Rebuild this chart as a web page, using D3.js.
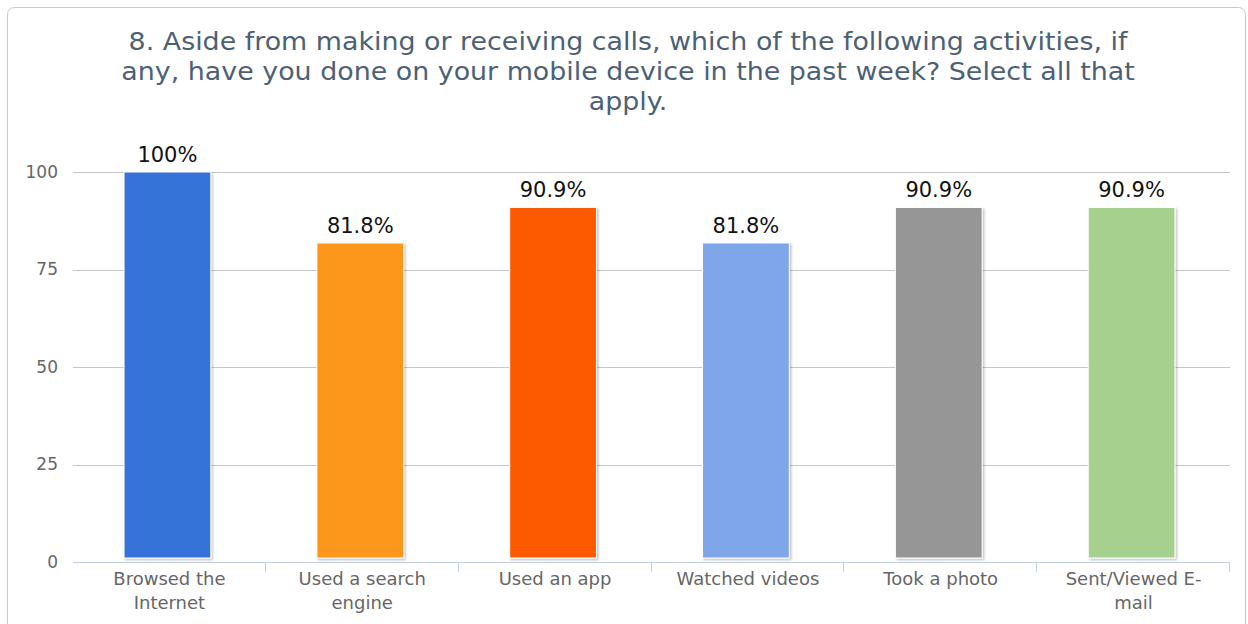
<!DOCTYPE html>
<html>
<head>
<meta charset="utf-8">
<script src="https://cdn.jsdelivr.net/npm/d3@7/dist/d3.min.js"></script>
<style>
  html, body { margin: 0; padding: 0; background: #fff; }
  svg { display: block; font-family: "DejaVu Sans", sans-serif; }
</style>
</head>
<body>
<svg id="chart" width="1248" height="624"></svg>
<script>
// Survey question 8 — share of respondents per activity (percent)
const titleLines = [
  "8. Aside from making or receiving calls, which of the following activities, if",
  "any, have you done on your mobile device in the past week? Select all that",
  "apply."
];
const categories = [
  ["Browsed the", "Internet"],
  ["Used a search", "engine"],
  ["Used an app"],
  ["Watched videos"],
  ["Took a photo"],
  ["Sent/Viewed E-", "mail"]
];
const values = [100, 81.8, 90.9, 81.8, 90.9, 90.9];
const valueLabels = ["100%", "81.8%", "90.9%", "81.8%", "90.9%", "90.9%"];
const colors = ["#3673d8", "#fd971f", "#fd5a05", "#7ea6e8", "#969696", "#a6d08e"];
const yTicks = [0, 25, 50, 75, 100];

const svg = d3.select("#chart");
const plot = { left: 73, right: 1230, top: 172, bottom: 562 };

// Outer frame
svg.append("rect")
  .attr("x", 7.5).attr("y", 7.5)
  .attr("width", 1238).attr("height", 660)
  .attr("rx", 7)
  .attr("fill", "#fff")
  .attr("stroke", "#c8c8c8");

// Shadow for bars
const defs = svg.append("defs");
const f = defs.append("filter").attr("id", "barShadow")
  .attr("x", "-10%").attr("y", "-10%").attr("width", "130%").attr("height", "130%");
f.append("feDropShadow")
  .attr("dx", 1.5).attr("dy", 1.5).attr("stdDeviation", 1.2)
  .attr("flood-color", "#000").attr("flood-opacity", 0.25);

// Title
const titleX = 628;
svg.append("g")
  .attr("transform", `translate(${titleX},50) scale(1.12,1)`)
  .append("text")
  .attr("text-anchor", "middle")
  .attr("fill", "#4d6175")
  .style("font-size", "24px")
  .selectAll("tspan")
  .data(titleLines)
  .join("tspan")
  .attr("x", 0)
  .attr("dy", (d, i) => i === 0 ? 0 : 30)
  .text(d => d);

const x = d3.scaleBand()
  .domain(d3.range(values.length))
  .range([plot.left, plot.right])
  .paddingInner(0).paddingOuter(0);

const y = d3.scaleLinear().domain([0, 100]).range([plot.bottom, plot.top]);

// Gridlines
svg.append("g")
  .selectAll("line")
  .data(yTicks.filter(t => t !== 0))
  .join("line")
  .attr("x1", plot.left).attr("x2", plot.right)
  .attr("y1", d => Math.round(y(d)) + 0.5)
  .attr("y2", d => Math.round(y(d)) + 0.5)
  .attr("stroke", "#c6c6c6");

// Y axis labels
const yAxis = d3.axisLeft(y).tickValues(yTicks).tickSize(0).tickPadding(0);
const yg = svg.append("g")
  .attr("transform", `translate(${plot.left - 15},0)`)
  .call(yAxis);
yg.select(".domain").remove();
yg.selectAll("text")
  .attr("fill", "#666")
  .style("font-size", "17px")
  .style("font-family", "DejaVu Sans, sans-serif");

// X axis
const xAxis = d3.axisBottom(x).tickSize(0).tickFormat("");
const xg = svg.append("g")
  .attr("transform", `translate(0,${plot.bottom + 0.5})`)
  .call(xAxis);
xg.select(".domain").attr("stroke", "#c0d0e0").attr("d", `M${plot.left},0H${plot.right}`);
xg.selectAll(".tick").remove();

// Tick marks at band boundaries
const bounds = d3.range(1, values.length + 1).map(i => x(i - 1) + x.bandwidth());
svg.append("g")
  .selectAll("line")
  .data(bounds)
  .join("line")
  .attr("x1", d => Math.round(d) - 0.5).attr("x2", d => Math.round(d) - 0.5)
  .attr("y1", plot.bottom).attr("y2", plot.bottom + 10)
  .attr("stroke", "#c0d0e0");

// Category labels
const catG = svg.append("g");
categories.forEach((lines, i) => {
  const cx = x(i) + x.bandwidth() / 2;
  const t = catG.append("text")
    .attr("x", cx).attr("y", 585)
    .attr("text-anchor", "middle")
    .attr("fill", "#666")
    .style("font-size", "18px");
  lines.forEach((ln, j) => {
    t.append("tspan").attr("x", cx).attr("dy", j === 0 ? 0 : 24).text(ln);
  });
});

// Bars
const barW = x.bandwidth() * 0.45;
svg.append("g")
  .selectAll("rect")
  .data(values)
  .join("rect")
  .attr("x", (d, i) => x(i) + x.bandwidth() / 2 - barW / 2 - 2)
  .attr("y", d => y(d))
  .attr("width", barW)
  .attr("height", d => y(0) - y(d) - 4)
  .attr("fill", (d, i) => colors[i])
  .attr("stroke", "#fff")
  .attr("stroke-width", 1)
  .attr("filter", "url(#barShadow)");

// Value labels
svg.append("g")
  .selectAll("text")
  .data(values)
  .join("text")
  .attr("x", (d, i) => x(i) + x.bandwidth() / 2 - 2)
  .attr("y", d => y(d) - 10)
  .attr("text-anchor", "middle")
  .attr("fill", "#111")
  .style("font-size", "21px")
  .text((d, i) => valueLabels[i]);
</script>
</body>
</html>
